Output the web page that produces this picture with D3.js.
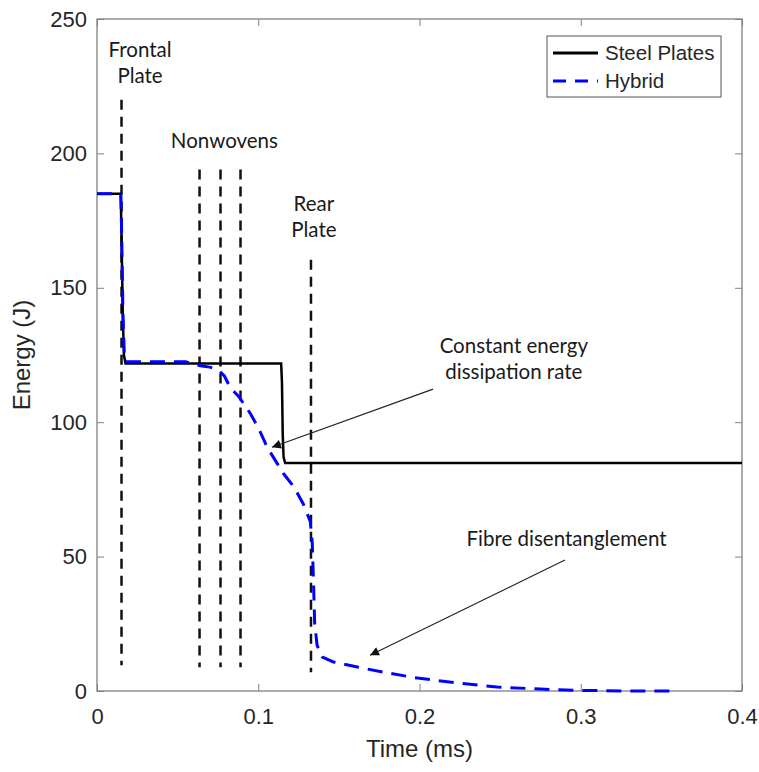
<!DOCTYPE html>
<html>
<head>
<meta charset="utf-8">
<script src="https://cdn.jsdelivr.net/npm/d3@7"></script>
<style>
  html, body { margin: 0; padding: 0; background: #fff; overflow: hidden; }
  svg { display: block; }
  svg text { font-family: "Liberation Sans", Arial, sans-serif; }
  .note { font-family: Lato, "Open Sans", sans-serif; font-size: 20.5px; fill: #1a1a1a; }
</style>
</head>
<body>
<svg id="chart" width="759" height="772"></svg>
<script>
// data (time in ms, energy in J)
const steelTime   = [0, 0.0147, 0.0152, 0.0160, 0.0167, 0.0177, 0.1142, 0.1147, 0.1152, 0.1157, 0.1167, 0.2, 0.4];
const steelEnergy = [185, 185, 170, 140, 125, 121.8, 121.8, 115, 95, 87, 84.8, 84.8, 84.8];

const hybridTime   = [0, 0.0148, 0.0153, 0.0161, 0.0169, 0.018, 0.055, 0.06, 0.065, 0.07, 0.075, 0.079, 0.0826, 0.088, 0.095, 0.1, 0.1056, 0.1155, 0.122, 0.128, 0.1323, 0.1335, 0.1343, 0.135, 0.1365, 0.1398, 0.1466, 0.1615, 0.1776, 0.1988, 0.2236, 0.248, 0.275, 0.302, 0.33, 0.356];
const hybridEnergy = [185, 185, 170, 140, 126, 122.5, 122.5, 121.6, 120.9, 120.5, 119.5, 117.2, 112.9, 109.5, 103.3, 98, 90.6, 81, 76, 69.5, 63, 55, 40, 25, 17, 12.6, 10.8, 8.9, 7, 4.8, 3, 1.5, 0.7, 0.2, 0, 0];

// vertical dashed markers: x, top, bottom (energy)
const markerX      = [0.0152, 0.0636, 0.0766, 0.089, 0.1327];
const markerTop    = [220, 194, 194, 194, 160.4];
const markerBottom = [9.6, 8.8, 8.8, 8.8, 7];

const xTicks = [0, 0.1, 0.2, 0.3, 0.4];
const yTicks = [0, 50, 100, 150, 200, 250];

// one entry per text line, anchored at its centre/baseline in data units
const noteText = ["Frontal", "Plate", "Nonwovens", "Rear", "Plate", "Constant energy", "dissipation rate", "Fibre disentanglement"];
const noteX    = [0.0267, 0.0267, 0.079, 0.1345, 0.1345, 0.2585, 0.2585, 0.2912];
const noteY    = [236, 226.3, 202, 178.5, 168.8, 125.7, 116, 53.9];

const arrows = [
  { from: [0.2084, 112.3], to: [0.1085, 90.7] },
  { from: [0.2902, 48.7], to: [0.1693, 13.3] }
];

const svg = d3.select("#chart");
const margin = { top: 19, right: 17, bottom: 81, left: 97 };
const innerWidth = 759 - margin.left - margin.right;
const innerHeight = 772 - margin.top - margin.bottom;

const g = svg.append("g").attr("transform", `translate(${margin.left},${margin.top})`);

const x = d3.scaleLinear().domain([0, 0.4]).range([0, innerWidth]);
const y = d3.scaleLinear().domain([0, 250]).range([innerHeight, 0]);

// arrowhead
svg.append("defs").append("marker")
    .attr("id", "head")
    .attr("viewBox", "0 0 10 10")
    .attr("refX", 10).attr("refY", 5)
    .attr("markerWidth", 10).attr("markerHeight", 9)
    .attr("markerUnits", "userSpaceOnUse")
    .attr("orient", "auto")
  .append("path")
    .attr("d", "M0,0L10,5L0,10Z")
    .attr("fill", "#111");

// axes (MATLAB style box, ticks inside)
const axisColor = "#808080";
function styleAxis(sel, showText) {
  sel.select(".domain").remove();
  sel.selectAll(".tick line").attr("stroke", axisColor);
  if (!showText) { sel.selectAll(".tick text").remove(); return; }
  sel.selectAll(".tick text")
     .attr("fill", "#262626")
     .style("font-size", "22px");
}
g.append("g").attr("transform", `translate(0,${innerHeight})`)
  .call(d3.axisBottom(x).tickValues(xTicks).tickFormat(d3.format("")).tickSizeInner(-7).tickPadding(17))
  .call(s => styleAxis(s, true));
g.append("g")
  .call(d3.axisTop(x).tickValues(xTicks).tickSizeInner(-7))
  .call(s => styleAxis(s, false));
g.append("g")
  .call(d3.axisLeft(y).tickValues(yTicks).tickSizeInner(-7).tickPadding(10))
  .call(s => styleAxis(s, true));
g.append("g").attr("transform", `translate(${innerWidth},0)`)
  .call(d3.axisRight(y).tickValues(yTicks).tickSizeInner(-7))
  .call(s => styleAxis(s, false));

g.append("rect")
  .attr("width", innerWidth).attr("height", innerHeight)
  .attr("fill", "none").attr("stroke", axisColor).attr("stroke-width", 1.3);

// axis titles
svg.append("text")
  .attr("x", margin.left + innerWidth / 2).attr("y", 757)
  .attr("text-anchor", "middle").attr("fill", "#262626")
  .style("font-size", "24px").text("Time (ms)");
svg.append("text")
  .attr("transform", `translate(30,${margin.top + innerHeight / 2}) rotate(-90)`)
  .attr("text-anchor", "middle").attr("fill", "#262626")
  .style("font-size", "24px").text("Energy (J)");

// vertical markers
g.selectAll(".marker")
  .data(markerX)
  .enter().append("line")
  .attr("class", "marker")
  .attr("x1", d => x(d)).attr("x2", d => x(d))
  .attr("y1", (d, i) => y(markerTop[i]))
  .attr("y2", (d, i) => y(markerBottom[i]))
  .attr("stroke", "#111").attr("stroke-width", 2.5)
  .attr("stroke-dasharray", "10,7");

// series
const line = d3.line().x(d => x(d[0])).y(d => y(d[1]));
const steel = steelTime.map((t, i) => [t, steelEnergy[i]]);
const hybrid = hybridTime.map((t, i) => [t, hybridEnergy[i]]);

g.append("path").datum(steel)
  .attr("d", line).attr("fill", "none")
  .attr("stroke", "#000").attr("stroke-width", 2.5);
g.append("path").datum(hybrid)
  .attr("d", line).attr("fill", "none")
  .attr("stroke", "#0000ff").attr("stroke-width", 3)
  .attr("stroke-dasharray", "15,9");

// annotation text
g.selectAll(".note")
  .data(noteText)
  .enter().append("text")
  .attr("class", "note")
  .attr("text-anchor", "middle")
  .attr("x", (d, i) => x(noteX[i]))
  .attr("y", (d, i) => y(noteY[i]))
  .text(d => d);

// annotation arrows
g.selectAll(".arrow")
  .data(arrows)
  .enter().append("line")
  .attr("x1", d => x(d.from[0])).attr("y1", d => y(d.from[1]))
  .attr("x2", d => x(d.to[0])).attr("y2", d => y(d.to[1]))
  .attr("stroke", "#222").attr("stroke-width", 1.1)
  .attr("marker-end", "url(#head)");

// legend
const legend = svg.append("g").attr("transform", "translate(547,36)");
legend.append("rect").attr("width", 174).attr("height", 61)
  .attr("fill", "#fff").attr("stroke", "#555").attr("stroke-width", 1);
const legendItems = [
  { name: "Steel Plates", color: "#000", dash: null },
  { name: "Hybrid", color: "#0000ff", dash: "13,9" }
];
legendItems.forEach((d, i) => {
  const yy = 17 + i * 28;
  legend.append("line").attr("x1", 6).attr("x2", 51).attr("y1", yy).attr("y2", yy)
    .attr("stroke", d.color).attr("stroke-width", 3)
    .attr("stroke-dasharray", d.dash);
  legend.append("text").attr("x", 58).attr("y", yy + 7)
    .attr("fill", "#262626").style("font-size", "20.5px").text(d.name);
});
</script>
</body>
</html>
